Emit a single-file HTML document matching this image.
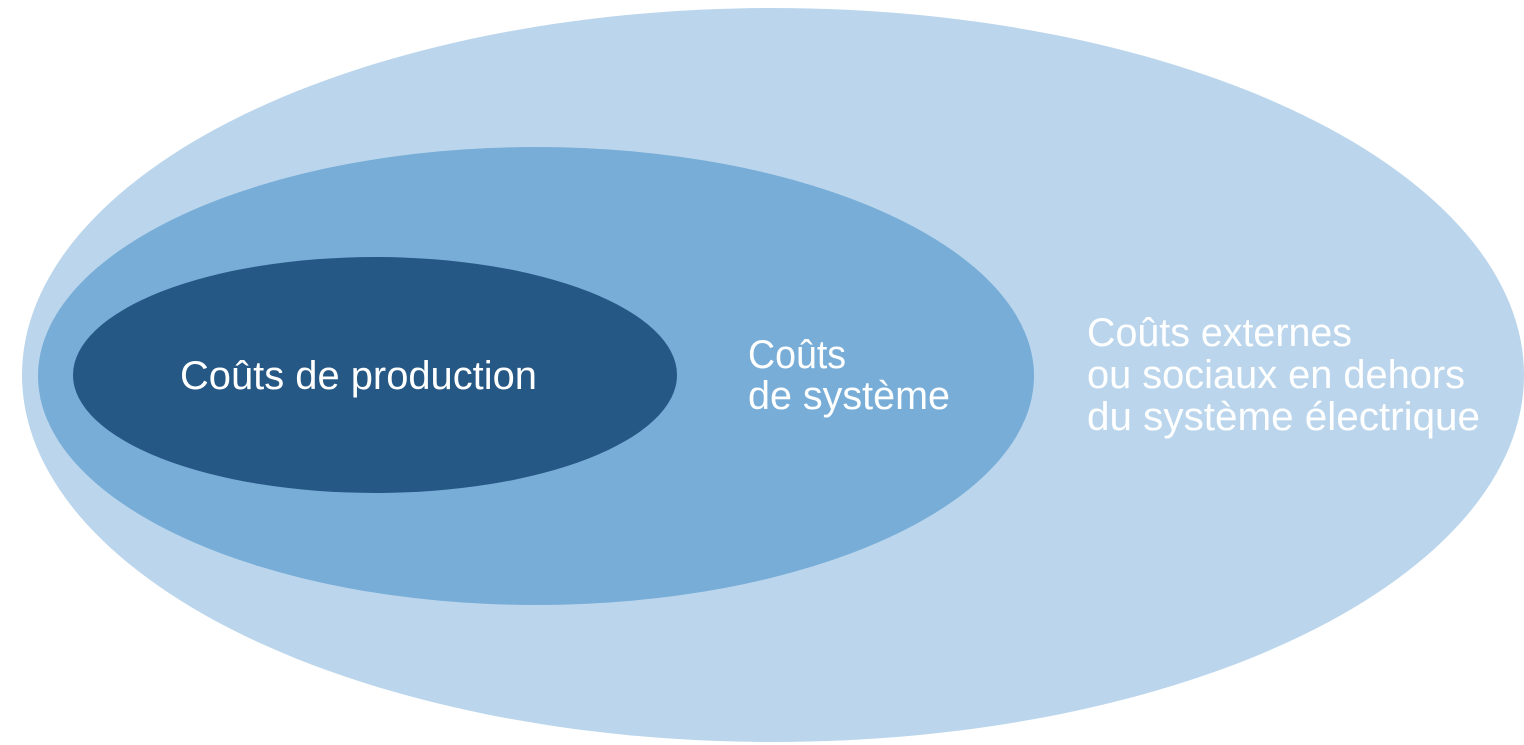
<!DOCTYPE html>
<html><head><meta charset="utf-8"><style>html,body{margin:0;padding:0;background:#fff;}svg{display:block}</style></head>
<body>
<svg width="1524" height="745" viewBox="0 0 1524 745" xmlns="http://www.w3.org/2000/svg">
<ellipse cx="773" cy="375" rx="751" ry="367" fill="#bbd6ec"/>
<ellipse cx="536" cy="376" rx="498" ry="229" fill="#78add7"/>
<ellipse cx="375" cy="375" rx="302" ry="118" fill="#265885"/>
<g font-family="'Liberation Sans Narrow','Liberation Sans',sans-serif" font-size="40" fill="#fff">
<text x="180" y="389" textLength="357" lengthAdjust="spacingAndGlyphs">Coûts de production</text>
<text x="748" y="368" textLength="98" lengthAdjust="spacingAndGlyphs">Coûts</text>
<text x="748" y="409" textLength="202" lengthAdjust="spacingAndGlyphs">de système</text>
<text x="1087" y="346" textLength="265" lengthAdjust="spacingAndGlyphs">Coûts externes</text>
<text x="1087" y="388" textLength="378" lengthAdjust="spacingAndGlyphs">ou sociaux en dehors</text>
<text x="1087" y="430" textLength="393" lengthAdjust="spacingAndGlyphs">du système électrique</text>
</g>
</svg>
</body></html>
